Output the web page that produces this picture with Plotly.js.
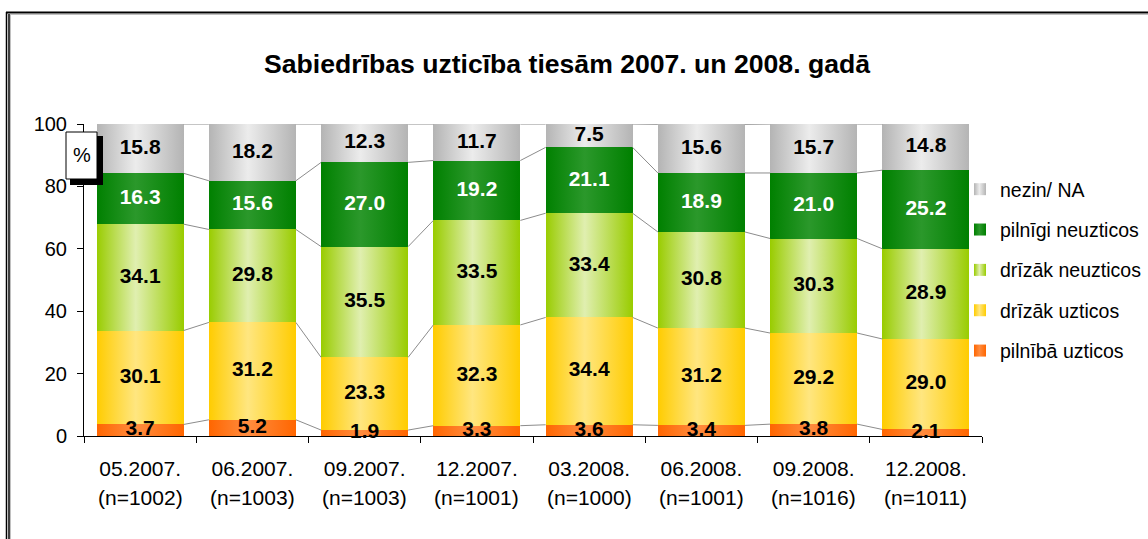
<!DOCTYPE html>
<html>
<head>
<meta charset="utf-8">
<script src="https://cdn.plot.ly/plotly-3.0.1.min.js"></script>
<style>
html, body { margin: 0; padding: 0; background: #ffffff; }
#chart { width: 1148px; height: 539px; }
</style>
</head>
<body>
<div id="chart"></div>
<script>
// ---- data ----
const categories = ['05.2007.', '06.2007.', '09.2007.', '12.2007.', '03.2008.', '06.2008.', '09.2008.', '12.2008.'];
const sampleSizes = ['(n=1002)', '(n=1003)', '(n=1003)', '(n=1001)', '(n=1000)', '(n=1001)', '(n=1016)', '(n=1011)'];
const seriesNames = ['pilnībā uzticos', 'drīzāk uzticos', 'drīzāk neuzticos', 'pilnīgi neuzticos', 'nezin/ NA'];
const pilnibaUzticos = [3.7, 5.2, 1.9, 3.3, 3.6, 3.4, 3.8, 2.1];
const drizakUzticos = [30.1, 31.2, 23.3, 32.3, 34.4, 31.2, 29.2, 29.0];
const drizakNeuzticos = [34.1, 29.8, 35.5, 33.5, 33.4, 30.8, 30.3, 28.9];
const pilnigiNeuzticos = [16.3, 15.6, 27.0, 19.2, 21.1, 18.9, 21.0, 25.2];
const nezinNA = [15.8, 18.2, 12.3, 11.7, 7.5, 15.6, 15.7, 14.8];
const seriesValues = [pilnibaUzticos, drizakUzticos, drizakNeuzticos, pilnigiNeuzticos, nezinNA];

// ---- style ----
const FONT = 'Liberation Sans, Arial, sans-serif';
const solidColors = ['#ff7722', '#ffd633', '#c4e05a', '#129012', '#d4d4d4'];
const gradEdge = ['#ff6600', '#ffcc00', '#99cc00', '#008000', '#b4b4b4'];
const gradMid = ['#ff8c40', '#ffe680', '#e0efb0', '#2b982b', '#ececec'];
const labelColors = ['#000000', '#000000', '#000000', '#ffffff', '#000000'];
const BARGAP = 0.225;
const barWidth = 1 - BARGAP;

// plot area in pixels (for decorative shapes)
const W = 1148, H = 539;
const L = 84, R = 982, T = 124, B = 436;
const px = v => (v - L) / (R - L);
const py = v => (B - v) / (B - T);

const xIdx = categories.map((c, i) => i);
const traces = [];

// stacked bars
seriesValues.forEach((vals, k) => {
  traces.push({
    type: 'bar',
    name: seriesNames[k],
    x: xIdx,
    y: vals,
    marker: { color: solidColors[k], line: { width: 0 } },
    legendgroup: 'g' + k,
    legendrank: 10 - k,
    hoverinfo: 'skip'
  });
});

// cumulative tops
const cum = [];
let running = categories.map(() => 0);
seriesValues.forEach(vals => {
  running = running.map((r, i) => r + vals[i]);
  cum.push(running.slice());
});

// series lines between bars
cum.forEach(level => {
  const xs = [], ys = [];
  for (let i = 0; i < categories.length - 1; i++) {
    xs.push(i + barWidth / 2, i + 1 - barWidth / 2, null);
    ys.push(level[i], level[i + 1], null);
  }
  traces.push({
    type: 'scatter', mode: 'lines', x: xs, y: ys,
    line: { color: '#8c8c8c', width: 1 },
    showlegend: false, hoverinfo: 'skip', cliponaxis: false
  });
});

// value labels
seriesValues.forEach((vals, k) => {
  traces.push({
    type: 'scatter', mode: 'text',
    x: xIdx,
    y: vals.map((v, i) => cum[k][i] - v / 2),
    text: vals.map(v => v.toFixed(1)),
    textposition: 'middle center',
    textfont: { family: FONT, size: 21, color: labelColors[k], weight: 'bold' },
    showlegend: false, hoverinfo: 'skip', cliponaxis: false
  });
});

const annotations = sampleSizes.map((s, i) => ({
  x: i, xref: 'x', y: py(497), yref: 'paper',
  text: s, showarrow: false,
  font: { family: FONT, size: 21, color: '#000000' },
  xanchor: 'center', yanchor: 'middle'
}));
annotations.push({
  x: px(81.5), xref: 'paper', y: py(155), yref: 'paper',
  text: '%', showarrow: false,
  font: { family: FONT, size: 20, color: '#000000' },
  xanchor: 'center', yanchor: 'middle'
});

const shapes = [
  // outer frame
  { type: 'line', xref: 'paper', yref: 'paper', x0: px(6.5), x1: px(6.5), y0: py(12), y1: py(545), line: { color: '#000', width: 1.5 } },
  { type: 'line', xref: 'paper', yref: 'paper', x0: px(9), x1: px(9), y0: py(14), y1: py(545), line: { color: '#000', width: 1.5 } },
  { type: 'line', xref: 'paper', yref: 'paper', x0: px(10.5), x1: px(10.5), y0: py(15), y1: py(545), line: { color: '#c0c0c0', width: 1 } },
  { type: 'line', xref: 'paper', yref: 'paper', x0: px(6), x1: px(1160), y0: py(12.5), y1: py(12.5), line: { color: '#000', width: 2 } },
  { type: 'line', xref: 'paper', yref: 'paper', x0: px(10), x1: px(1160), y0: py(14.5), y1: py(14.5), line: { color: '#c0c0c0', width: 1 } },
  // % box with shadow
  { type: 'rect', xref: 'paper', yref: 'paper', x0: px(70), x1: px(103), y0: py(136), y1: py(185), fillcolor: '#000', line: { width: 0 } },
  { type: 'rect', xref: 'paper', yref: 'paper', x0: px(66), x1: px(97), y0: py(132), y1: py(179), fillcolor: '#fff', line: { color: '#000', width: 1 } }
];

const layout = {
  width: W, height: H,
  margin: { l: L, r: W - R, t: T, b: H - B, pad: 0, autoexpand: false },
  paper_bgcolor: '#ffffff', plot_bgcolor: '#ffffff',
  barmode: 'stack', bargap: BARGAP,
  font: { family: FONT, color: '#000000', size: 20 },
  title: {
    text: 'Sabiedrības uzticība tiesām 2007. un 2008. gadā',
    font: { family: FONT, size: 26.6, color: '#000000', weight: 'bold' },
    xref: 'container', x: 567 / W, xanchor: 'center',
    yref: 'container', y: 1 - 64 / H, yanchor: 'middle'
  },
  xaxis: {
    range: [-0.5, categories.length - 0.5],
    tickvals: xIdx, ticktext: categories,
    ticks: '', showgrid: false, zeroline: false,
    showline: true, linecolor: '#000000', linewidth: 1,
    tickfont: { family: FONT, size: 21, color: '#000000' },
    ticklabelstandoff: 14,
    minor: {
      tickvals: categories.map((c, i) => i - 0.5).concat([categories.length - 0.5]),
      ticks: 'outside', ticklen: 6, tickcolor: '#000000', tickwidth: 1, showgrid: false
    },
    fixedrange: true
  },
  yaxis: {
    range: [0, 100], tickvals: [0, 20, 40, 60, 80, 100],
    ticks: 'outside', ticklen: 6, tickcolor: '#000000', tickwidth: 1,
    showgrid: false, zeroline: false,
    showline: true, linecolor: '#000000', linewidth: 1,
    tickfont: { family: FONT, size: 20, color: '#000000' },
    ticklabelstandoff: 6,
    fixedrange: true
  },
  legend: {
    x: 960 / W, xanchor: 'left', xref: 'container',
    y: 1 - 170 / H, yanchor: 'top', yref: 'container',
    traceorder: 'grouped', tracegroupgap: 12,
    font: { family: FONT, size: 19.5, color: '#000000' },
    bgcolor: 'rgba(0,0,0,0)', borderwidth: 0
  },
  annotations: annotations,
  shapes: shapes,
  showlegend: true
};

function applyGradients(gd) {
  const ns = 'http://www.w3.org/2000/svg';
  const svg = gd.querySelector('svg.main-svg');
  if (!svg) return;
  let defs = svg.querySelector('defs#customGrads');
  if (!defs) {
    defs = document.createElementNS(ns, 'defs');
    defs.setAttribute('id', 'customGrads');
    svg.insertBefore(defs, svg.firstChild);
    gradEdge.forEach((edge, k) => {
      const lg = document.createElementNS(ns, 'linearGradient');
      lg.setAttribute('id', 'barGrad' + k);
      lg.setAttribute('x1', '0'); lg.setAttribute('y1', '0');
      lg.setAttribute('x2', '1'); lg.setAttribute('y2', '0');
      [[0, edge], [0.45, gradMid[k]], [1, edge]].forEach(([o, c]) => {
        const st = document.createElementNS(ns, 'stop');
        st.setAttribute('offset', o);
        st.setAttribute('stop-color', c);
        lg.appendChild(st);
      });
      defs.appendChild(lg);
    });
  }
  gd.querySelectorAll('.barlayer .trace').forEach((g, k) => {
    g.querySelectorAll('path').forEach(p => { p.style.fill = 'url(#barGrad' + k + ')'; });
  });
  gd.querySelectorAll('.legend .traces').forEach(t => {
    const txt = t.querySelector('.legendtext');
    if (!txt) return;
    const k = seriesNames.indexOf(txt.textContent);
    if (k < 0) return;
    t.querySelectorAll('.legendpoints path').forEach(p => { p.style.fill = 'url(#barGrad' + k + ')'; });
  });
}

Plotly.newPlot('chart', traces, layout, { staticPlot: true, displayModeBar: false }).then(gd => {
  applyGradients(gd);
});
</script>
</body>
</html>
